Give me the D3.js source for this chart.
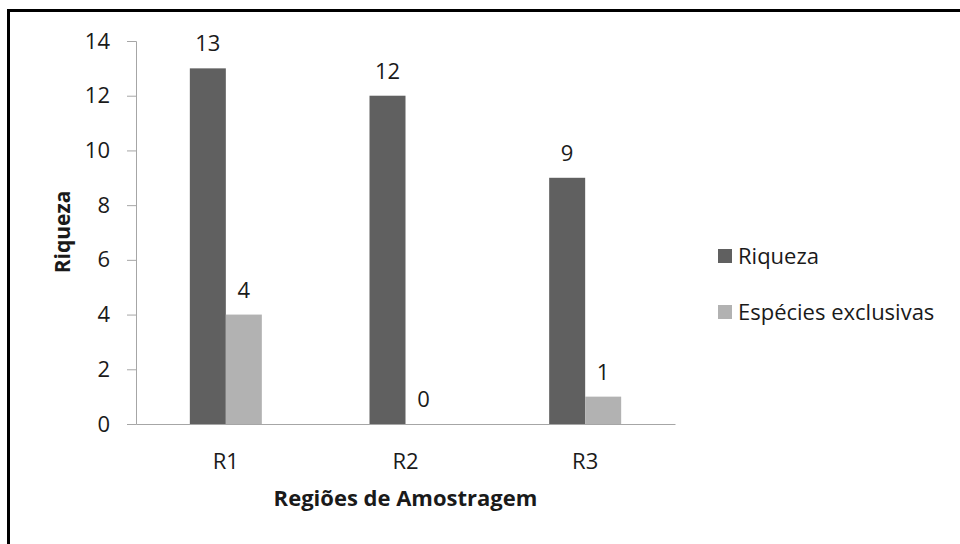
<!DOCTYPE html>
<html>
<head>
<meta charset="utf-8">
<script src="https://cdn.jsdelivr.net/npm/d3@7"></script>
<style>
  html, body { margin: 0; padding: 0; background: #fff; }
  svg { display: block; }
  text { font-family: "Open Sans", Lato, sans-serif; fill: #1a1a1a; }
</style>
</head>
<body>
<svg id="chart" width="960" height="544"></svg>
<script>
// Regions sampled and the two measures per region
const regions = ["R1", "R2", "R3"];
const seriesNames = ["Riqueza", "Espécies exclusivas"];
const riqueza = [13, 12, 9];
const exclusivas = [4, 0, 1];
const yTicks = [0, 2, 4, 6, 8, 10, 12, 14];
const colors = ["#606060", "#b2b2b2"];

const FONT = "'Open Sans', Lato, sans-serif";
const svg = d3.select("#chart");

// Outer frame (runs off the right and bottom edges)
svg.append("rect")
  .attr("x", 8.5).attr("y", 10.5)
  .attr("width", 1000).attr("height", 600)
  .attr("fill", "none").attr("stroke", "#000").attr("stroke-width", 3);

const plot = { left: 136, right: 675, top: 41, bottom: 424 };

const x = d3.scaleBand().domain(regions).range([plot.left, plot.right]);
const xs = d3.scaleBand().domain(seriesNames).range([0, 72]);
const y = d3.scaleLinear().domain([0, 14]).range([plot.bottom, plot.top]);

const rows = regions.map((r, i) => ({ region: r, values: [riqueza[i], exclusivas[i]] }));

// Y axis
const yAxis = svg.append("g")
  .attr("transform", `translate(${plot.left},0)`)
  .call(d3.axisLeft(y).tickValues(yTicks).tickSize(9).tickPadding(17).tickFormat(d3.format("d")));
yAxis.select(".domain").attr("stroke", "#a6a6a6");
yAxis.selectAll(".tick line").attr("stroke", "#a6a6a6");
yAxis.selectAll(".tick text").attr("font-size", 22).attr("fill", "#1a1a1a")
  .style("font-family", FONT);

// X axis
const xAxis = svg.append("g")
  .attr("transform", `translate(0,${plot.bottom})`)
  .call(d3.axisBottom(x).tickSize(0).tickPadding(29));
xAxis.select(".domain").attr("stroke", "#a6a6a6");
xAxis.selectAll(".tick text").attr("font-size", 22).attr("fill", "#1a1a1a")
  .style("font-family", FONT);

// Bars
const groups = svg.append("g").selectAll("g")
  .data(rows).join("g")
  .attr("transform", d => `translate(${x(d.region) + x.bandwidth() / 2 - 36},0)`);

groups.selectAll("rect")
  .data(d => d.values.map((v, k) => ({ name: seriesNames[k], value: v, k })))
  .join("rect")
  .attr("x", d => xs(d.name))
  .attr("width", xs.bandwidth())
  .attr("y", d => y(d.value))
  .attr("height", d => y(0) - y(d.value))
  .attr("fill", d => colors[d.k]);

// Value labels
groups.selectAll("text")
  .data(d => d.values.map((v, k) => ({ name: seriesNames[k], value: v, k })))
  .join("text")
  .attr("x", d => xs(d.name) + xs.bandwidth() / 2)
  .attr("y", d => y(d.value) - 17)
  .attr("text-anchor", "middle")
  .attr("font-size", 22)
  .text(d => d.value);

// Axis titles
svg.append("text")
  .attr("x", (plot.left + plot.right) / 2).attr("y", 506)
  .attr("text-anchor", "middle").attr("font-size", 22).attr("font-weight", "bold")
  .text("Regiões de Amostragem");

svg.append("text")
  .attr("transform", "translate(70,232) rotate(-90)")
  .attr("text-anchor", "middle").attr("font-size", 21).attr("font-weight", "bold")
  .text("Riqueza");

// Legend
const legend = svg.append("g").selectAll("g")
  .data(seriesNames).join("g")
  .attr("transform", (d, i) => `translate(718,${249 + i * 56})`);
legend.append("rect").attr("width", 14).attr("height", 14).attr("fill", (d, i) => colors[i]);
legend.append("text").attr("x", 20).attr("y", 14.5).attr("font-size", 22).text(d => d);
</script>
</body>
</html>
